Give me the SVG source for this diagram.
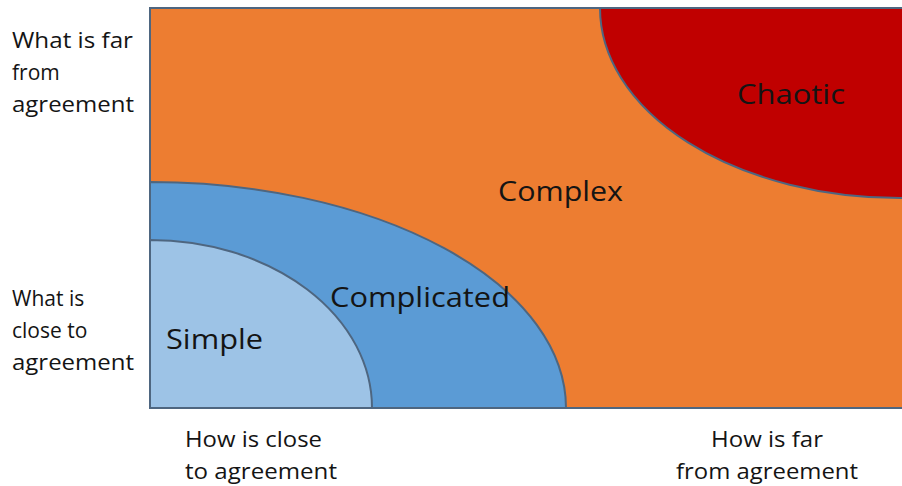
<svg xmlns="http://www.w3.org/2000/svg" width="902" height="486" viewBox="0 0 902 486">
  <style>
    .zone { stroke: #4e6680; stroke-width: 2; }
    .lbl { font-family: "Open Sans", "Liberation Sans", sans-serif; fill: #141414; }
    .big { font-size: 28px; }
    .axis { font-size: 21px; }
  </style>
  <rect width="902" height="486" fill="#ffffff"/>

  <!-- Complex: the whole field -->
  <g id="complex">
    <rect class="zone" x="150" y="8" width="760" height="400" fill="#ED7D31"/>
    <text class="lbl big" x="498" y="201" textLength="125" lengthAdjust="spacingAndGlyphs">Complex</text>
  </g>

  <!-- Chaotic: quarter ellipse in the top-right corner -->
  <g id="chaotic">
    <path class="zone" d="M600,8 A300,190 0 0 0 900,198 L910,198 L910,8 Z" fill="#C00000"/>
    <text class="lbl big" x="737" y="104" textLength="108" lengthAdjust="spacingAndGlyphs">Chaotic</text>
  </g>

  <!-- Complicated: quarter ellipse from the bottom-left corner -->
  <g id="complicated">
    <path class="zone" d="M150,182 A416,226 0 0 1 566,408 L150,408 Z" fill="#5B9BD5"/>
    <text class="lbl big" x="330" y="307" textLength="180" lengthAdjust="spacingAndGlyphs">Complicated</text>
  </g>

  <!-- Simple: inner quarter ellipse -->
  <g id="simple">
    <path class="zone" d="M150,240 A222,168 0 0 1 372,408 L150,408 Z" fill="#9DC3E6"/>
    <text class="lbl big" x="166" y="349" textLength="97" lengthAdjust="spacingAndGlyphs">Simple</text>
  </g>

  <!-- Axis labels -->
  <g id="y-far">
    <text class="lbl axis" x="12" y="48" textLength="121" lengthAdjust="spacingAndGlyphs">What is far</text>
    <text class="lbl axis" x="12" y="80">from</text>
    <text class="lbl axis" x="12" y="112" textLength="122" lengthAdjust="spacingAndGlyphs">agreement</text>
  </g>
  <g id="y-close">
    <text class="lbl axis" x="12" y="306">What is</text>
    <text class="lbl axis" x="12" y="338">close to</text>
    <text class="lbl axis" x="12" y="370" textLength="122" lengthAdjust="spacingAndGlyphs">agreement</text>
  </g>
  <g id="x-close">
    <text class="lbl axis" x="185" y="447" textLength="137" lengthAdjust="spacingAndGlyphs">How is close</text>
    <text class="lbl axis" x="185" y="479" textLength="152" lengthAdjust="spacingAndGlyphs">to agreement</text>
  </g>
  <g id="x-far">
    <text class="lbl axis" x="711" y="447" textLength="112" lengthAdjust="spacingAndGlyphs">How is far</text>
    <text class="lbl axis" x="676" y="479" textLength="182" lengthAdjust="spacingAndGlyphs">from agreement</text>
  </g>
</svg>
